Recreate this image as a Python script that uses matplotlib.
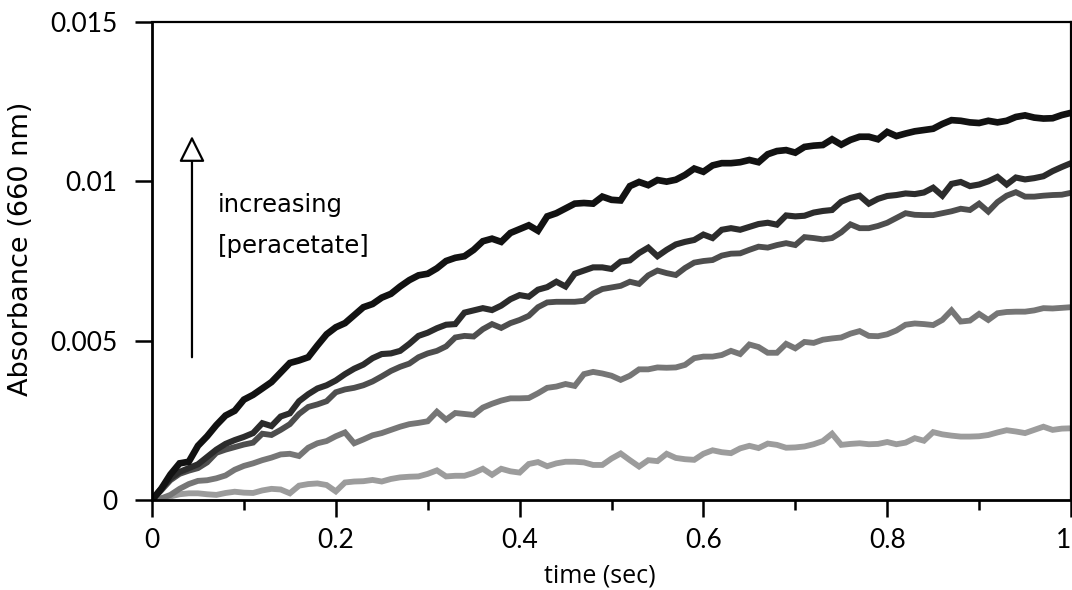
import numpy as np
import matplotlib
matplotlib.use("Agg")
import matplotlib.pyplot as plt

# time axis, sampled every 10 ms
t = np.linspace(0, 1, 101)

# absorbance traces at 660 nm, in units of 1e-3
a1 = [0.0, 0.35, 0.8, 1.15, 1.2, 1.7, 2.0, 2.35, 2.65, 2.8,
      3.15, 3.3, 3.5, 3.7, 4.0, 4.3, 4.38, 4.48, 4.85, 5.2,
      5.42, 5.55, 5.8, 6.05, 6.15, 6.35, 6.47, 6.7, 6.9, 7.05,
      7.1, 7.27, 7.5, 7.6, 7.65, 7.85, 8.12, 8.2, 8.1, 8.38,
      8.5, 8.62, 8.45, 8.9, 9.0, 9.15, 9.3, 9.32, 9.3, 9.52,
      9.42, 9.4, 9.85, 9.98, 9.88, 10.04, 9.99, 10.05, 10.2, 10.4,
      10.3, 10.5, 10.57, 10.57, 10.6, 10.67, 10.6, 10.85, 10.95, 10.98,
      10.9, 11.08, 11.12, 11.14, 11.32, 11.15, 11.3, 11.4, 11.4, 11.32,
      11.55, 11.42, 11.5, 11.57, 11.61, 11.65, 11.8, 11.92, 11.9, 11.85,
      11.83, 11.9, 11.85, 11.9, 12.02, 12.07, 12.0, 11.97, 11.98, 12.08,
      12.15]
a2 = [0.0, 0.35, 0.68, 0.88, 1.0, 1.12, 1.35, 1.58, 1.76, 1.88,
      1.98, 2.1, 2.41, 2.32, 2.62, 2.72, 3.1, 3.32, 3.5, 3.6,
      3.75, 3.95, 4.12, 4.25, 4.45, 4.58, 4.6, 4.68, 4.9, 5.15,
      5.25, 5.39, 5.5, 5.52, 5.88, 5.95, 6.02, 5.96, 6.1, 6.3,
      6.43, 6.38, 6.6, 6.68, 6.85, 6.7, 7.1, 7.2, 7.3, 7.3,
      7.25, 7.48, 7.52, 7.75, 7.92, 7.65, 7.85, 8.02, 8.1, 8.16,
      8.33, 8.22, 8.48, 8.53, 8.48, 8.57, 8.66, 8.7, 8.64, 8.93,
      8.9, 8.92, 9.02, 9.07, 9.1, 9.36, 9.48, 9.55, 9.3, 9.45,
      9.54, 9.57, 9.62, 9.6, 9.65, 9.8, 9.55, 9.92, 9.98, 9.85,
      9.9, 10.0, 10.14, 9.9, 10.12, 10.06, 10.1, 10.16, 10.32, 10.45,
      10.57]
a3 = [0.0, 0.3, 0.62, 0.82, 0.92, 1.0, 1.18, 1.48, 1.58, 1.66,
      1.74, 1.8, 2.08, 2.04, 2.2, 2.38, 2.7, 2.92, 3.0, 3.1,
      3.38, 3.47, 3.52, 3.6, 3.72, 3.88, 4.05, 4.18, 4.28, 4.48,
      4.6, 4.68, 4.82, 5.1, 5.15, 5.13, 5.36, 5.52, 5.4, 5.55,
      5.65, 5.78, 6.05, 6.2, 6.22, 6.22, 6.22, 6.25, 6.48, 6.62,
      6.67, 6.72, 6.85, 6.78, 7.05, 7.2, 7.12, 7.06, 7.28, 7.45,
      7.5, 7.53, 7.67, 7.73, 7.74, 7.85, 7.95, 7.92, 8.0, 8.06,
      8.0, 8.25, 8.22, 8.18, 8.22, 8.4, 8.65, 8.53, 8.53, 8.6,
      8.7, 8.85, 9.0, 8.95, 8.94, 8.94, 9.0, 9.06, 9.14, 9.1,
      9.3, 9.05, 9.35, 9.55, 9.66, 9.52, 9.52, 9.55, 9.57, 9.58,
      9.64]
a4 = [0.0, 0.05, 0.16, 0.35, 0.5, 0.6, 0.62, 0.68, 0.77, 0.95,
      1.07, 1.15, 1.25, 1.33, 1.43, 1.45, 1.38, 1.64, 1.78, 1.85,
      2.0, 2.12, 1.78, 1.9, 2.03, 2.1, 2.2, 2.3, 2.38, 2.42,
      2.47, 2.77, 2.52, 2.73, 2.7, 2.67, 2.9, 3.02, 3.12, 3.19,
      3.19, 3.2, 3.35, 3.52, 3.56, 3.64, 3.58, 3.95, 4.02, 3.97,
      3.9, 3.77, 3.9, 4.1, 4.1, 4.16, 4.15, 4.16, 4.24, 4.45,
      4.5, 4.5, 4.55, 4.68, 4.58, 4.88, 4.8, 4.62, 4.62, 4.9,
      4.76, 4.96, 4.93, 5.03, 5.07, 5.1, 5.22, 5.3, 5.15, 5.14,
      5.2, 5.32, 5.5, 5.54, 5.52, 5.49, 5.65, 5.95, 5.6, 5.63,
      5.84, 5.65, 5.86, 5.9, 5.91, 5.91, 5.95, 6.02, 6.01, 6.03,
      6.05]
a5 = [0.0, 0.05, 0.11, 0.18, 0.21, 0.21, 0.18, 0.16, 0.22, 0.26,
      0.23, 0.22, 0.3, 0.35, 0.33, 0.21, 0.45, 0.5, 0.52, 0.47,
      0.27, 0.55, 0.58, 0.59, 0.63, 0.58, 0.66, 0.71, 0.73, 0.74,
      0.82, 0.93, 0.74, 0.76, 0.76, 0.85, 0.98, 0.79, 0.98, 0.9,
      0.86, 1.13, 1.19, 1.06, 1.15, 1.2, 1.2, 1.18, 1.1, 1.1,
      1.3, 1.46, 1.25, 1.05, 1.25, 1.22, 1.45, 1.32, 1.28, 1.26,
      1.45, 1.56, 1.5, 1.47, 1.62, 1.7, 1.63, 1.77, 1.73, 1.64,
      1.65, 1.68, 1.75, 1.85, 2.08, 1.73, 1.76, 1.78, 1.75, 1.76,
      1.82, 1.75, 1.8, 1.94, 1.86, 2.13, 2.06, 2.02, 1.99, 1.99,
      2.0, 2.04, 2.12, 2.19, 2.15, 2.1, 2.2, 2.3, 2.2, 2.24,
      2.25]

traces = [a5, a4, a3, a2, a1]
colors = ["#9c9c9c", "#767676", "#4e4e4e", "#2c2c2c", "#121212"]
widths = [4.2, 4.2, 4.2, 4.4, 4.8]

xticks = [0, 0.2, 0.4, 0.6, 0.8, 1.0]
xticklabels = ["0", "0.2", "0.4", "0.6", "0.8", "1"]
yticks = [0, 0.005, 0.01, 0.015]
yticklabels = ["0", "0.005", "0.01", "0.015"]

fig = plt.figure(figsize=(10.72, 5.9), dpi=100)
ax = fig.add_axes([152 / 1072, 1 - 500 / 590, 919 / 1072, 478 / 590])

for a, c, w in zip(traces, colors, widths):
    ax.plot(t, np.array(a) / 1000, color=c, lw=w, solid_joinstyle="miter")

ax.set_xlim(0, 1)
ax.set_ylim(0, 0.015)
ax.set_xticks(xticks)
ax.set_xticklabels(xticklabels)
ax.set_xticks([0.1, 0.3, 0.5, 0.7, 0.9], minor=True)
ax.set_yticks(yticks)
ax.set_yticklabels(yticklabels)

for s in ax.spines.values():
    s.set_linewidth(1.6)
ax.spines["left"].set_linewidth(2.0)
ax.spines["bottom"].set_linewidth(2.0)
ax.tick_params(axis="both", which="major", direction="out", length=12, width=1.8,
               labelsize=19)
ax.tick_params(axis="y", which="major", pad=13)
ax.tick_params(axis="x", which="major", pad=8)
ax.tick_params(axis="x", which="minor", direction="out", length=7, width=1.8)
for lab in ax.get_xticklabels() + ax.get_yticklabels():
    lab.set_family("Lato")
# last x label sits against the right edge of the figure
ax.get_xticklabels()[-1].set_horizontalalignment("right")

ax.set_xlabel("time (sec)", family="Open Sans", fontsize=18)
ax.xaxis.set_label_coords(0.487, -0.132)
ax.set_ylabel("Absorbance (660 nm)", family="DejaVu Sans", fontsize=19.5)
ax.yaxis.set_label_coords(-0.128, 0.525)

# arrow with hollow head
ax.annotate("", xy=(0.0435, 0.01142), xytext=(0.0435, 0.00448),
            arrowprops=dict(arrowstyle="-|>,head_length=0.8,head_width=0.4",
                            mutation_scale=20, fc="white", ec="black", lw=1.6,
                            shrinkA=0, shrinkB=0))
ax.text(0.072, 0.00904, "increasing", fontsize=17.5, family="DejaVu Sans")
ax.text(0.072, 0.00775, "[peracetate]", fontsize=17.5, family="DejaVu Sans")

fig.savefig("out.png", dpi=100)
